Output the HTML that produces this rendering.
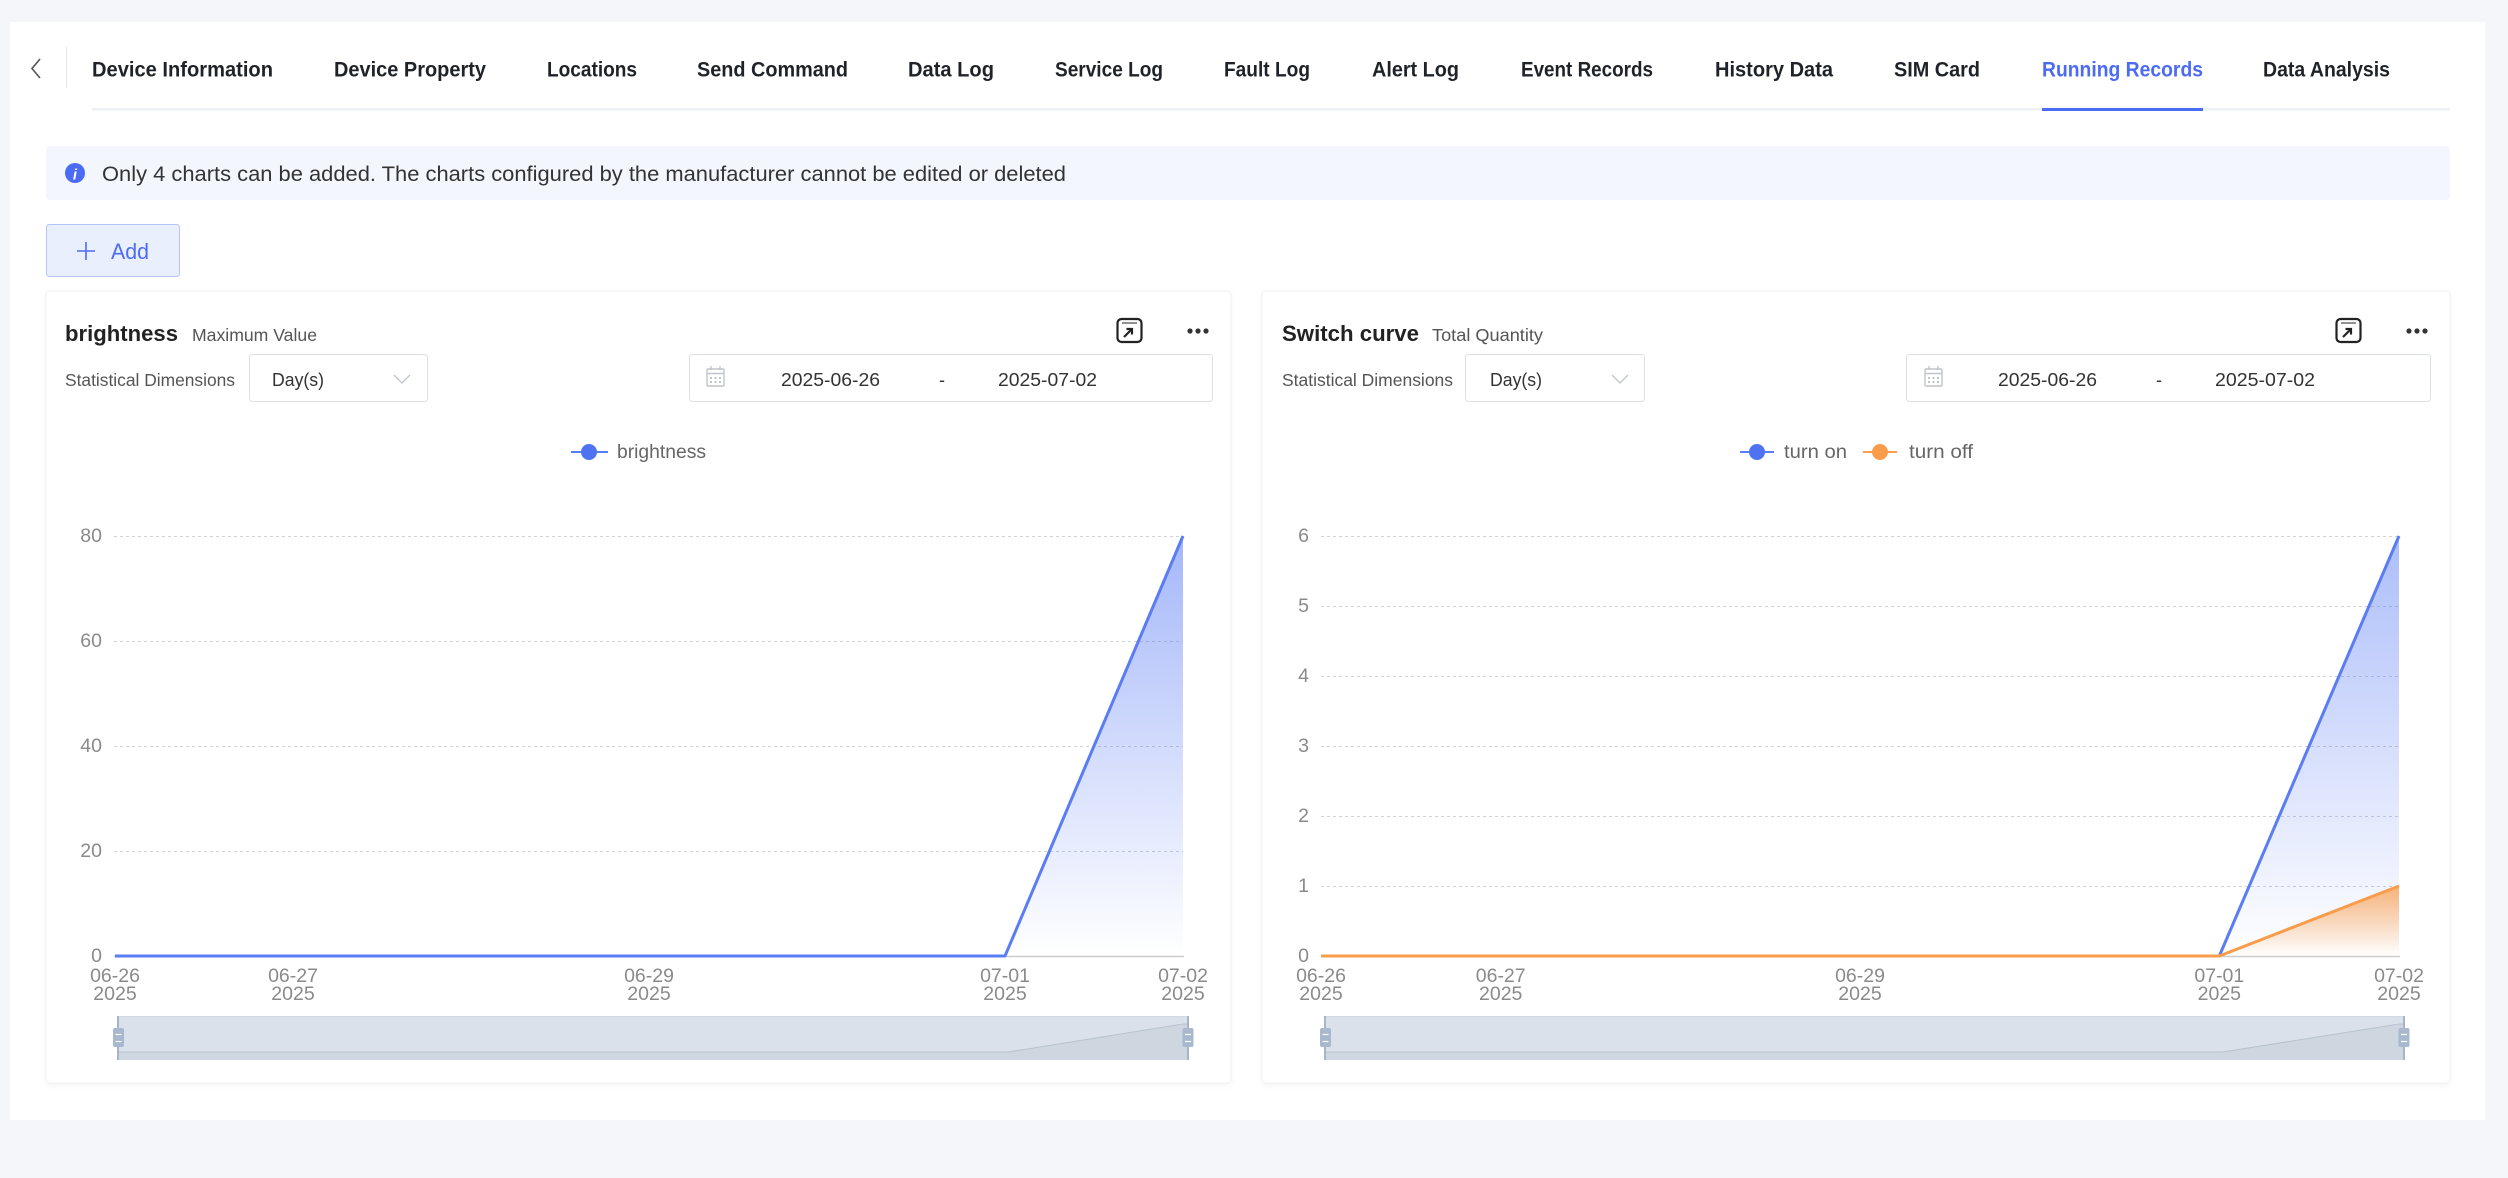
<!DOCTYPE html>
<html>
<head>
<meta charset="utf-8">
<style>
html,body{margin:0;padding:0;background:#f5f6fa;}
svg{display:block;}
text{font-family:"Liberation Sans",Arial,sans-serif;}
</style>
</head>
<body>
<svg width="2508" height="1178" viewBox="0 0 2508 1178" xmlns="http://www.w3.org/2000/svg">
<defs>
  <linearGradient id="gbL" gradientUnits="userSpaceOnUse" x1="0" y1="536" x2="0" y2="956">
    <stop offset="0" stop-color="#5a7cf4" stop-opacity="0.55"/>
    <stop offset="1" stop-color="#5a7cf4" stop-opacity="0"/>
  </linearGradient>
  <linearGradient id="gbR" gradientUnits="userSpaceOnUse" x1="0" y1="536" x2="0" y2="956">
    <stop offset="0" stop-color="#5a7cf4" stop-opacity="0.5"/>
    <stop offset="1" stop-color="#5a7cf4" stop-opacity="0"/>
  </linearGradient>
  <linearGradient id="goR" gradientUnits="userSpaceOnUse" x1="0" y1="886" x2="0" y2="956">
    <stop offset="0" stop-color="#f99d4c" stop-opacity="0.75"/>
    <stop offset="1" stop-color="#f99d4c" stop-opacity="0"/>
  </linearGradient>
  <filter id="sh" x="-5%" y="-5%" width="110%" height="110%">
    <feDropShadow dx="0" dy="2" stdDeviation="3" flood-color="#000" flood-opacity="0.04"/>
  </filter>
</defs>

<!-- page bg -->
<rect x="0" y="0" width="2508" height="1178" fill="#f5f6fa"/>
<rect x="10" y="22" width="2475" height="1098" fill="#ffffff"/>

<!-- back arrow + divider -->
<polyline points="40,59 32,68.5 40,78" fill="none" stroke="#555" stroke-width="1.6"/>
<line x1="66.5" y1="47" x2="66.5" y2="88" stroke="#e5e6eb" stroke-width="1"/>

<!-- tabs -->
<g font-size="21" font-weight="700" fill="#1f2329">
  <text x="92" y="76.5" textLength="181" lengthAdjust="spacingAndGlyphs">Device Information</text>
  <text x="334" y="76.5" textLength="152" lengthAdjust="spacingAndGlyphs">Device Property</text>
  <text x="547" y="76.5" textLength="90" lengthAdjust="spacingAndGlyphs">Locations</text>
  <text x="697" y="76.5" textLength="151" lengthAdjust="spacingAndGlyphs">Send Command</text>
  <text x="908" y="76.5" textLength="86" lengthAdjust="spacingAndGlyphs">Data Log</text>
  <text x="1055" y="76.5" textLength="108" lengthAdjust="spacingAndGlyphs">Service Log</text>
  <text x="1224" y="76.5" textLength="86" lengthAdjust="spacingAndGlyphs">Fault Log</text>
  <text x="1372" y="76.5" textLength="87" lengthAdjust="spacingAndGlyphs">Alert Log</text>
  <text x="1521" y="76.5" textLength="132" lengthAdjust="spacingAndGlyphs">Event Records</text>
  <text x="1715" y="76.5" textLength="118" lengthAdjust="spacingAndGlyphs">History Data</text>
  <text x="1894" y="76.5" textLength="86" lengthAdjust="spacingAndGlyphs">SIM Card</text>
  <text x="2042" y="76.5" textLength="161" lengthAdjust="spacingAndGlyphs" fill="#4b6bf5">Running Records</text>
  <text x="2263" y="76.5" textLength="127" lengthAdjust="spacingAndGlyphs">Data Analysis</text>
</g>
<rect x="92" y="108" width="2358" height="2.5" fill="#edf0f5"/>
<rect x="2042" y="108" width="161" height="3" fill="#4b6bf5"/>

<!-- info banner -->
<rect x="46" y="146" width="2404" height="54" rx="4" fill="#f3f6fd"/>
<circle cx="75" cy="173" r="10" fill="#4b6bf5"/>
<text x="75" y="179.5" font-size="15" font-weight="700" font-style="italic" fill="#ffffff" text-anchor="middle" font-family="Liberation Serif, serif">i</text>
<text x="102" y="181" font-size="21" fill="#333333" textLength="964" lengthAdjust="spacingAndGlyphs">Only 4 charts can be added. The charts configured by the manufacturer cannot be edited or deleted</text>

<!-- Add button -->
<rect x="46.5" y="224.5" width="133" height="52" rx="3" fill="#e9effd" stroke="#b4c6f6" stroke-width="1"/>
<line x1="77" y1="251" x2="95" y2="251" stroke="#4b6bf5" stroke-width="1.6"/>
<line x1="86" y1="242" x2="86" y2="260" stroke="#4b6bf5" stroke-width="1.6"/>
<text x="111" y="259" font-size="22" fill="#4b6bf5" textLength="38" lengthAdjust="spacingAndGlyphs">Add</text>

<!-- ============ LEFT CARD ============ -->
<rect x="46" y="291" width="1185" height="792" rx="4" fill="#ffffff" stroke="#eef0f3" stroke-width="1" filter="url(#sh)"/>
<text x="65" y="341" font-size="22" font-weight="700" fill="#222" textLength="113" lengthAdjust="spacingAndGlyphs">brightness</text>
<text x="192" y="341" font-size="17.5" fill="#555" textLength="125" lengthAdjust="spacingAndGlyphs">Maximum Value</text>
<!-- export icon -->
<g fill="none" stroke="#222" stroke-width="2.2">
  <rect x="1117.5" y="319" width="24" height="23" rx="4"/>
  <line x1="1122" y1="323" x2="1137" y2="323" stroke-width="1"/>
  <line x1="1124" y1="337" x2="1132" y2="329"/>
  <polyline points="1126.5,329 1132,329 1132,334.5"/>
</g>
<circle cx="1190" cy="331" r="2.6" fill="#333"/>
<circle cx="1198" cy="331" r="2.6" fill="#333"/>
<circle cx="1206" cy="331" r="2.6" fill="#333"/>

<text x="65" y="386" font-size="17.5" fill="#555" textLength="170" lengthAdjust="spacingAndGlyphs">Statistical Dimensions</text>
<rect x="249.5" y="354.5" width="178" height="47" rx="3" fill="#fff" stroke="#dcdfe6"/>
<text x="272" y="386" font-size="18" fill="#333" textLength="52" lengthAdjust="spacingAndGlyphs">Day(s)</text>
<polyline points="394,375 402,383 410,375" fill="none" stroke="#c0c4cc" stroke-width="1.3"/>

<rect x="689.5" y="354.5" width="523" height="47" rx="3" fill="#fff" stroke="#dcdfe6"/>
<g fill="none" stroke="#c0c4cc" stroke-width="1.4">
  <rect x="707" y="369" width="17" height="17" rx="1"/>
  <line x1="707" y1="373.5" x2="724" y2="373.5"/>
  <line x1="711" y1="366" x2="711" y2="370"/>
  <line x1="720" y1="366" x2="720" y2="370"/>
</g>
<g fill="#c0c4cc">
  <rect x="710" y="377" width="2" height="2"/><rect x="714.5" y="377" width="2" height="2"/><rect x="719" y="377" width="2" height="2"/>
  <rect x="710" y="381" width="2" height="2"/><rect x="714.5" y="381" width="2" height="2"/><rect x="719" y="381" width="2" height="2"/>
</g>
<text x="781" y="386" font-size="18" fill="#333" textLength="99" lengthAdjust="spacingAndGlyphs">2025-06-26</text>
<text x="939" y="386" font-size="18" fill="#333">-</text>
<text x="998" y="386" font-size="18" fill="#333" textLength="99" lengthAdjust="spacingAndGlyphs">2025-07-02</text>

<!-- legend left -->
<line x1="571" y1="452" x2="608" y2="452" stroke="#5a7cf4" stroke-width="2"/>
<circle cx="589" cy="452" r="8" fill="#4f72f0"/>
<text x="617" y="458" font-size="19" fill="#666" textLength="89" lengthAdjust="spacingAndGlyphs">brightness</text>

<!-- grid left -->
<g stroke="#d2d2d2" stroke-width="1" stroke-dasharray="3 3">
  <line x1="114" y1="536.5" x2="1183" y2="536.5"/>
  <line x1="114" y1="641.5" x2="1183" y2="641.5"/>
  <line x1="114" y1="746.5" x2="1183" y2="746.5"/>
  <line x1="114" y1="851.5" x2="1183" y2="851.5"/>
</g>
<line x1="114" y1="956.5" x2="1184" y2="956.5" stroke="#cccccc" stroke-width="1.5"/>
<g font-size="19.5" fill="#8a8a8a" text-anchor="end">
  <text x="102" y="542">80</text>
  <text x="102" y="647">60</text>
  <text x="102" y="752">40</text>
  <text x="102" y="857">20</text>
  <text x="102" y="962">0</text>
</g>
<g font-size="19.5" fill="#8a8a8a" text-anchor="middle">
  <text x="115" y="982">06-26</text><text x="115" y="1000">2025</text>
  <text x="293" y="982">06-27</text><text x="293" y="1000">2025</text>
  <text x="649" y="982">06-29</text><text x="649" y="1000">2025</text>
  <text x="1005" y="982">07-01</text><text x="1005" y="1000">2025</text>
  <text x="1183" y="982">07-02</text><text x="1183" y="1000">2025</text>
</g>
<polygon points="1005,956 1183,536 1183,956" fill="url(#gbL)"/>
<polyline points="115,956 1005,956 1183,536" fill="none" stroke="#5a7cf4" stroke-width="3" stroke-linejoin="round"/>

<!-- slider left -->
<rect x="118" y="1016" width="1070" height="44" fill="#dbe1ea"/>
<line x1="118" y1="1016.5" x2="1188" y2="1016.5" stroke="#d3d9e2" stroke-width="1"/>
<polygon points="118,1052 1008,1052 1183,1024 1188,1024 1188,1060 118,1060" fill="#ced6e0"/>
<polyline points="118,1052 1008,1052 1183,1024 1188,1024" fill="none" stroke="#b8c2cf" stroke-width="1"/>
<line x1="118" y1="1016" x2="118" y2="1060" stroke="#a5b5ca" stroke-width="2"/>
<line x1="1188" y1="1016" x2="1188" y2="1060" stroke="#a5b5ca" stroke-width="2"/>
<rect x="113" y="1028" width="11" height="19" rx="2" fill="#a8b8ce"/>
<rect x="1182.5" y="1028" width="11" height="19" rx="2" fill="#a8b8ce"/>
<g stroke="#ffffff" stroke-width="1.2">
  <line x1="115.5" y1="1034.5" x2="121.5" y2="1034.5"/><line x1="115.5" y1="1041.5" x2="121.5" y2="1041.5"/>
  <line x1="1185" y1="1034.5" x2="1191" y2="1034.5"/><line x1="1185" y1="1041.5" x2="1191" y2="1041.5"/>
</g>

<!-- ============ RIGHT CARD ============ -->
<rect x="1262" y="291" width="1188" height="792" rx="4" fill="#ffffff" stroke="#eef0f3" stroke-width="1" filter="url(#sh)"/>
<text x="1282" y="341" font-size="22" font-weight="700" fill="#222" textLength="137" lengthAdjust="spacingAndGlyphs">Switch curve</text>
<text x="1432" y="341" font-size="17.5" fill="#555" textLength="111" lengthAdjust="spacingAndGlyphs">Total Quantity</text>
<g fill="none" stroke="#222" stroke-width="2.2">
  <rect x="2336.5" y="319" width="24" height="23" rx="4"/>
  <line x1="2341" y1="323" x2="2356" y2="323" stroke-width="1"/>
  <line x1="2343" y1="337" x2="2351" y2="329"/>
  <polyline points="2345.5,329 2351,329 2351,334.5"/>
</g>
<circle cx="2409" cy="331" r="2.6" fill="#333"/>
<circle cx="2417" cy="331" r="2.6" fill="#333"/>
<circle cx="2425" cy="331" r="2.6" fill="#333"/>

<text x="1282" y="386" font-size="17.5" fill="#555" textLength="171" lengthAdjust="spacingAndGlyphs">Statistical Dimensions</text>
<rect x="1465.5" y="354.5" width="179" height="47" rx="3" fill="#fff" stroke="#dcdfe6"/>
<text x="1490" y="386" font-size="18" fill="#333" textLength="52" lengthAdjust="spacingAndGlyphs">Day(s)</text>
<polyline points="1612,375 1620,383 1628,375" fill="none" stroke="#c0c4cc" stroke-width="1.3"/>

<rect x="1906.5" y="354.5" width="524" height="47" rx="3" fill="#fff" stroke="#dcdfe6"/>
<g fill="none" stroke="#c0c4cc" stroke-width="1.4">
  <rect x="1925" y="369" width="17" height="17" rx="1"/>
  <line x1="1925" y1="373.5" x2="1942" y2="373.5"/>
  <line x1="1929" y1="366" x2="1929" y2="370"/>
  <line x1="1938" y1="366" x2="1938" y2="370"/>
</g>
<g fill="#c0c4cc">
  <rect x="1928" y="377" width="2" height="2"/><rect x="1932.5" y="377" width="2" height="2"/><rect x="1937" y="377" width="2" height="2"/>
  <rect x="1928" y="381" width="2" height="2"/><rect x="1932.5" y="381" width="2" height="2"/><rect x="1937" y="381" width="2" height="2"/>
</g>
<text x="1998" y="386" font-size="18" fill="#333" textLength="99" lengthAdjust="spacingAndGlyphs">2025-06-26</text>
<text x="2156" y="386" font-size="18" fill="#333">-</text>
<text x="2215" y="386" font-size="18" fill="#333" textLength="100" lengthAdjust="spacingAndGlyphs">2025-07-02</text>

<!-- legend right -->
<line x1="1740" y1="452" x2="1774" y2="452" stroke="#5a7cf4" stroke-width="2"/>
<circle cx="1757" cy="452" r="8" fill="#4f72f0"/>
<text x="1784" y="458" font-size="19" fill="#666" textLength="63" lengthAdjust="spacingAndGlyphs">turn on</text>
<line x1="1863" y1="452" x2="1897" y2="452" stroke="#f99d4c" stroke-width="2"/>
<circle cx="1880" cy="452" r="8" fill="#f99d4c"/>
<text x="1909" y="458" font-size="19" fill="#666" textLength="64" lengthAdjust="spacingAndGlyphs">turn off</text>

<!-- grid right -->
<g stroke="#d2d2d2" stroke-width="1" stroke-dasharray="3 3">
  <line x1="1321" y1="536.5" x2="2399" y2="536.5"/>
  <line x1="1321" y1="606.5" x2="2399" y2="606.5"/>
  <line x1="1321" y1="676.5" x2="2399" y2="676.5"/>
  <line x1="1321" y1="746.5" x2="2399" y2="746.5"/>
  <line x1="1321" y1="816.5" x2="2399" y2="816.5"/>
  <line x1="1321" y1="886.5" x2="2399" y2="886.5"/>
</g>
<line x1="1321" y1="956.5" x2="2400" y2="956.5" stroke="#cccccc" stroke-width="1.5"/>
<g font-size="19.5" fill="#8a8a8a" text-anchor="end">
  <text x="1309" y="542">6</text>
  <text x="1309" y="612">5</text>
  <text x="1309" y="682">4</text>
  <text x="1309" y="752">3</text>
  <text x="1309" y="822">2</text>
  <text x="1309" y="892">1</text>
  <text x="1309" y="962">0</text>
</g>
<g font-size="19.5" fill="#8a8a8a" text-anchor="middle">
  <text x="1321" y="982">06-26</text><text x="1321" y="1000">2025</text>
  <text x="1500.7" y="982">06-27</text><text x="1500.7" y="1000">2025</text>
  <text x="1860" y="982">06-29</text><text x="1860" y="1000">2025</text>
  <text x="2219.3" y="982">07-01</text><text x="2219.3" y="1000">2025</text>
  <text x="2399" y="982">07-02</text><text x="2399" y="1000">2025</text>
</g>
<polygon points="2219.3,956 2399,536 2399,956" fill="url(#gbR)"/>
<polygon points="2219.3,956 2399,886 2399,956" fill="url(#goR)"/>
<polyline points="1321,956 2219.3,956 2399,536" fill="none" stroke="#5a7cf4" stroke-width="3" stroke-linejoin="round"/>
<polyline points="1321,956 2219.3,956 2399,886" fill="none" stroke="#f99d4c" stroke-width="3" stroke-linejoin="round"/>

<!-- slider right -->
<rect x="1325" y="1016" width="1079" height="44" fill="#dbe1ea"/>
<line x1="1325" y1="1016.5" x2="2404" y2="1016.5" stroke="#d3d9e2" stroke-width="1"/>
<polygon points="1325,1052 2223,1052 2399,1024 2404,1024 2404,1060 1325,1060" fill="#ced6e0"/>
<polyline points="1325,1052 2223,1052 2399,1024 2404,1024" fill="none" stroke="#b8c2cf" stroke-width="1"/>
<line x1="1325" y1="1016" x2="1325" y2="1060" stroke="#a5b5ca" stroke-width="2"/>
<line x1="2404" y1="1016" x2="2404" y2="1060" stroke="#a5b5ca" stroke-width="2"/>
<rect x="1320" y="1028" width="11" height="19" rx="2" fill="#a8b8ce"/>
<rect x="2398.5" y="1028" width="11" height="19" rx="2" fill="#a8b8ce"/>
<g stroke="#ffffff" stroke-width="1.2">
  <line x1="1322.5" y1="1034.5" x2="1328.5" y2="1034.5"/><line x1="1322.5" y1="1041.5" x2="1328.5" y2="1041.5"/>
  <line x1="2401" y1="1034.5" x2="2407" y2="1034.5"/><line x1="2401" y1="1041.5" x2="2407" y2="1041.5"/>
</g>
</svg>
</body>
</html>
